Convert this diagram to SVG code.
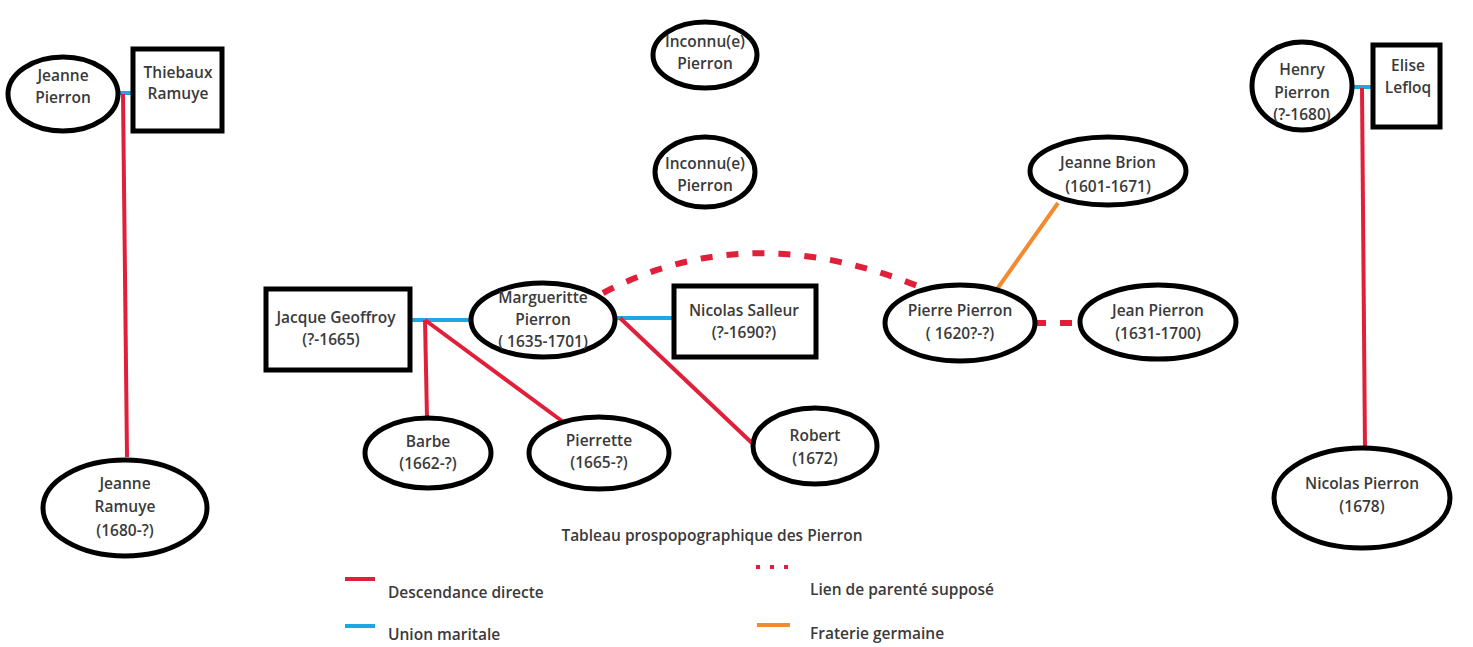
<svg xmlns="http://www.w3.org/2000/svg" width="1473" height="647" viewBox="0 0 1473 647">
<style>
.n{fill:#fff;stroke:#000;stroke-width:5}
.t{font-family:"Open Sans","Liberation Sans",sans-serif;font-weight:600;font-size:15.5px;fill:#3a3a3a;text-anchor:middle}
.l{font-family:"Open Sans","Liberation Sans",sans-serif;font-weight:600;font-size:15.5px;fill:#3a3a3a}
.red{stroke:#e0203a;stroke-width:4;fill:none}
.blue{stroke:#1ea7e1;stroke-width:4;fill:none}
.orange{stroke:#f28a30;stroke-width:4;fill:none}
.dash{stroke:#e0203a;stroke-width:6;fill:none;stroke-dasharray:12 14}
</style>
<rect width="1473" height="647" fill="#fff"/>
<g id="connectors">
<line class="blue" x1="116" y1="93" x2="133" y2="93"/>
<line class="red" x1="123" y1="94" x2="127" y2="457"/>
<line class="blue" x1="408" y1="320" x2="472" y2="320"/>
<line class="blue" x1="614" y1="318" x2="674" y2="318"/>
<line class="red" x1="425" y1="320" x2="427" y2="418"/>
<line class="red" x1="425" y1="320" x2="566" y2="424"/>
<line class="red" x1="620" y1="318" x2="753" y2="444"/>
<path class="dash" d="M603 293 Q752 214 932 292"/>
<line class="dash" x1="1034" y1="323" x2="1082" y2="323"/>
<line class="orange" x1="1058" y1="203" x2="995" y2="292"/>
<line class="blue" x1="1350" y1="87" x2="1373" y2="87"/>
<line class="red" x1="1362" y1="88" x2="1365" y2="450"/>
</g>
<g id="jeanne-pierron"><ellipse class="n" cx="63" cy="94" rx="55" ry="37"/><text class="t" x="63" y="81">Jeanne</text><text class="t" x="63" y="103">Pierron</text></g>
<g id="thiebaux-ramuye"><rect class="n" x="133" y="49" width="89" height="82"/><text class="t" x="178" y="78">Thiebaux</text><text class="t" x="178" y="99">Ramuye</text></g>
<g id="jeanne-ramuye"><ellipse class="n" cx="125" cy="508" rx="82" ry="48"/><text class="t" x="125" y="489">Jeanne</text><text class="t" x="125" y="512">Ramuye</text><text class="t" x="125" y="536">(1680-?)</text></g>
<g id="inconnu1"><ellipse class="n" cx="705" cy="55" rx="52" ry="33"/><text class="t" x="705" y="47">Inconnu(e)</text><text class="t" x="705" y="69">Pierron</text></g>
<g id="inconnu2"><ellipse class="n" cx="705" cy="172" rx="50" ry="35"/><text class="t" x="705" y="169">Inconnu(e)</text><text class="t" x="705" y="191">Pierron</text></g>
<g id="jacque-geoffroy"><rect class="n" x="266" y="289" width="144" height="81"/><text class="t" x="336" y="323">Jacque Geoffroy</text><text class="t" x="331" y="345">(?-1665)</text></g>
<g id="margueritte-pierron"><ellipse class="n" cx="543" cy="320" rx="72" ry="37"/><text class="t" x="543" y="303">Margueritte</text><text class="t" x="543" y="325">Pierron</text><text class="t" x="543" y="347">( 1635-1701)</text></g>
<g id="nicolas-salleur"><rect class="n" x="674" y="286" width="142" height="71"/><text class="t" x="744" y="316">Nicolas Salleur</text><text class="t" x="744" y="338">(?-1690?)</text></g>
<g id="barbe"><ellipse class="n" cx="428" cy="453" rx="63" ry="35"/><text class="t" x="428" y="447">Barbe</text><text class="t" x="428" y="469">(1662-?)</text></g>
<g id="pierrette"><ellipse class="n" cx="599" cy="453" rx="70" ry="36"/><text class="t" x="599" y="446">Pierrette</text><text class="t" x="599" y="468">(1665-?)</text></g>
<g id="robert"><ellipse class="n" cx="815" cy="446" rx="62" ry="38"/><text class="t" x="815" y="441">Robert</text><text class="t" x="815" y="464">(1672)</text></g>
<g id="jeanne-brion"><ellipse class="n" cx="1108" cy="171" rx="78" ry="34"/><text class="t" x="1108" y="168">Jeanne Brion</text><text class="t" x="1108" y="192">(1601-1671)</text></g>
<g id="pierre-pierron"><ellipse class="n" cx="960" cy="323" rx="75" ry="38"/><text class="t" x="960" y="316">Pierre Pierron</text><text class="t" x="960" y="339">( 1620?-?)</text></g>
<g id="jean-pierron"><ellipse class="n" cx="1158" cy="322" rx="78" ry="37"/><text class="t" x="1158" y="316">Jean Pierron</text><text class="t" x="1158" y="339">(1631-1700)</text></g>
<g id="henry-pierron"><ellipse class="n" cx="1302" cy="86" rx="50" ry="44"/><text class="t" x="1302" y="75">Henry</text><text class="t" x="1302" y="98">Pierron</text><text class="t" x="1302" y="120">(?-1680)</text></g>
<g id="elise-lefloq"><rect class="n" x="1373" y="45" width="67" height="82"/><text class="t" x="1408" y="71">Elise</text><text class="t" x="1408" y="93">Lefloq</text></g>
<g id="nicolas-pierron"><ellipse class="n" cx="1362" cy="498" rx="88" ry="50"/><text class="t" x="1362" y="489">Nicolas Pierron</text><text class="t" x="1362" y="512">(1678)</text></g>
<g id="legend">
<text class="t" x="712" y="541">Tableau prospopographique des Pierron</text>
<line class="red" x1="345" y1="579" x2="375" y2="579"/>
<text class="l" x="388" y="598">Descendance directe</text>
<line class="blue" x1="345" y1="626" x2="375" y2="626"/>
<text class="l" x="388" y="640">Union maritale</text>
<line x1="756" y1="567" x2="792" y2="567" stroke="#e0203a" stroke-width="4" stroke-dasharray="4 10"/>
<text class="l" x="810" y="595">Lien de parenté supposé</text>
<line class="orange" x1="757" y1="625" x2="790" y2="625"/>
<text class="l" x="810" y="639">Fraterie germaine</text>
</g>
</svg>
